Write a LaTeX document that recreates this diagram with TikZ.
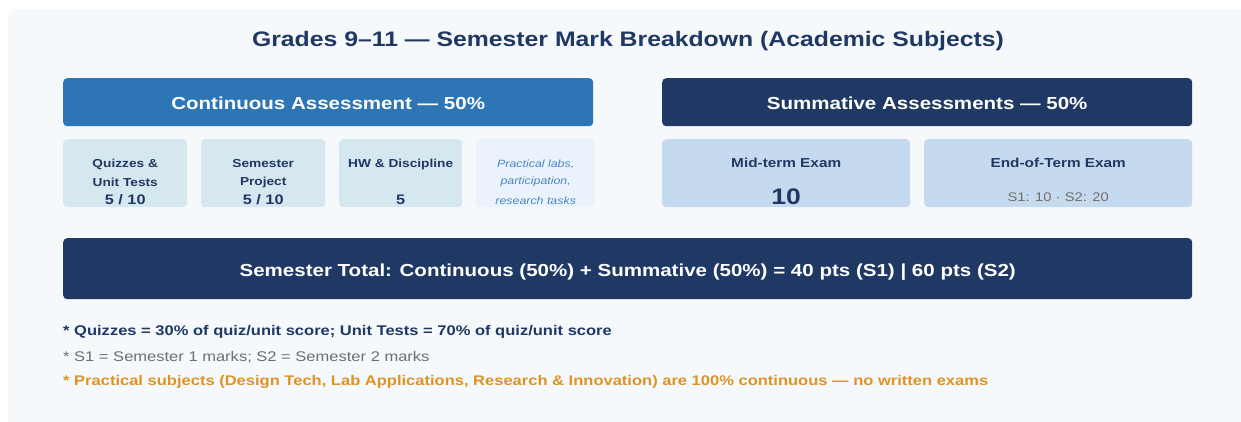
\documentclass[tikz,border=0pt]{standalone}
\usepackage{fontspec}
\setmainfont{Liberation Sans}[FakeStretch=1.18]
\usepackage{tikz}
\usetikzlibrary{positioning, calc}

\definecolor{panelbg}{HTML}{F5F9FC}
\definecolor{navy}{HTML}{1F3864}
\definecolor{midblue}{HTML}{2E75B6}
\definecolor{paleteal}{HTML}{D5E7EF}
\definecolor{paleblue}{HTML}{C6DAEF}
\definecolor{palest}{HTML}{EAF3FB}
\definecolor{softblue}{HTML}{4A86C5}
\definecolor{greytext}{HTML}{6E6E6E}
\definecolor{amber}{HTML}{DE9324}

\newcommand{\fs}[1]{\fontsize{#1}{#1}\selectfont}

\begin{document}
\begin{tikzpicture}[x=1pt, y=-1pt,
            box/.style={rounded corners=4pt, inner sep=0pt, anchor=north west},
            head box/.style={box, fill=#1, minimum height=48pt, minimum width=530pt},
            sub box/.style={box, fill=#1, minimum height=68pt},
            head text/.style={text=white, font=\bfseries\fs{17.4}, yshift=-1pt},
            sub label/.style={text=navy, font=\bfseries\fs{11.6}, align=center, inner sep=0pt},
            sub value/.style={text=navy, font=\bfseries\fs{13.8}, inner sep=0pt},
            prac text/.style={text=softblue, font=\itshape\fs{10.5}, inner sep=0pt},
            note/.style={anchor=west, inner sep=0pt, font=\fs{14}}]

            \useasboundingbox (0,0) rectangle (1241,421);
            \fill[white] (0,0) rectangle (1241,421);
            \fill[panelbg, rounded corners=8pt] (8,9) rectangle (1250,430);

            % Title
            \node[text=navy, font=\bfseries\fs{21}] (title) at (628,41)
                {Grades 9--11 --- Semester Mark Breakdown (Academic Subjects)};

            % Headers
            \node[head box=midblue] (cont) at (63,78) {};
            \node[head text] at (cont.center) {Continuous Assessment --- 50\%};
            \node[head box=navy] (summ) at (662,78) {};
            \node[head text] at (summ.center) {Summative Assessments --- 50\%};

            % Continuous parts
            \node[sub box=paleteal, minimum width=124pt] (quiz) at (63,139) {};
            \node[sub box=paleteal, minimum width=124pt] (proj) at (201,139) {};
            \node[sub box=paleteal, minimum width=123pt] (hw) at (339,139) {};
            \node[sub box=palest, minimum width=119pt] (prac) at (476,139) {};

            \node[sub label] at ($(quiz.north)+(0,25)$) {Quizzes \&};
            \node[sub label] at ($(quiz.north)+(0,43)$) {Unit Tests};
            \node[sub value] at ($(quiz.north)+(0,61)$) {5 / 10};
            \node[sub label] at ($(proj.north)+(0,25)$) {Semester};
            \node[sub label] at ($(proj.north)+(0,43)$) {Project};
            \node[sub value] at ($(proj.north)+(0,61)$) {5 / 10};
            \node[sub label] at ($(hw.north)+(0,25)$) {HW \& Discipline};
            \node[sub value] at ($(hw.north)+(0,61)$) {5};
            \node[prac text] at ($(prac.north)+(0,25)$) {Practical labs,};
            \node[prac text] at ($(prac.north)+(0,43)$) {participation,};
            \node[prac text] at ($(prac.north)+(0,62)$) {research tasks};

            % Summative parts
            \node[sub box=paleblue, minimum width=248pt] (mid) at (662,139) {};
            \node[sub box=paleblue, minimum width=268pt] (eot) at (924,139) {};
            \node[sub label, font=\bfseries\fs{13}] at ($(mid.north)+(0,24)$) {Mid-term Exam};
            \node[sub value, font=\bfseries\fs{22.5}] at ($(mid.north)+(0,58)$) {10};
            \node[sub label, font=\bfseries\fs{13}] at ($(eot.north)+(0,24)$) {End-of-Term Exam};
            \node[text=greytext, font=\fs{12.5}, inner sep=0pt] at ($(eot.north)+(0,58)$) {S1: 10 · S2: 20};

            % Total
            \node[box, fill=navy, minimum width=1129pt, minimum height=61pt] (total) at (63,238) {};
            \node[head text, yshift=-2pt] at (total.center)
                {Semester Total: Continuous (50\%) + Summative (50\%) = 40 pts (S1) | 60 pts (S2)};

            % Notes
            \node[note, text=navy, font=\bfseries\fs{14}] (n1) at (63,332)
                {* Quizzes = 30\% of quiz/unit score; Unit Tests = 70\% of quiz/unit score};
            \node[note, text=greytext] (n2) at (63,357)
                {* S1 = Semester 1 marks; S2 = Semester 2 marks};
            \node[note, text=amber, font=\bfseries\fs{14}] (n3) at (63,382)
                {* Practical subjects (Design Tech, Lab Applications, Research \& Innovation) are 100\% continuous --- no written exams};
        \end{tikzpicture}
\end{document}
